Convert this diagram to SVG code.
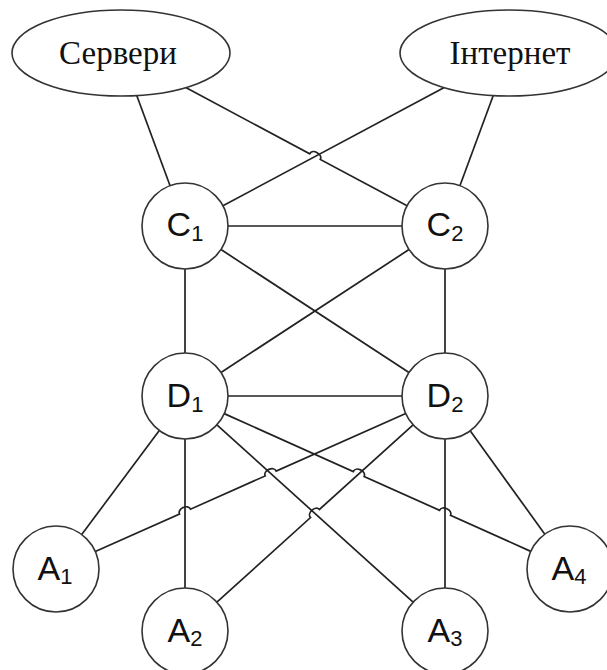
<svg xmlns="http://www.w3.org/2000/svg" width="607" height="670" viewBox="0 0 607 670">
<style>
.bg{fill:#ffffff}
.node{fill:#ffffff;stroke:#333333;stroke-width:1.6}
.edge{fill:none;stroke:#222222;stroke-width:1.7}
.lbl{font-family:"Liberation Sans",Arial,sans-serif;font-size:34px;fill:#111111;text-anchor:middle}
.sub{font-size:22px}
.elbl{font-family:"Liberation Serif","Times New Roman",serif;font-size:33px;fill:#111111;text-anchor:middle}
</style>
<rect class="bg" x="0" y="0" width="607" height="670"/>
<g id="connectors">
<path class="edge" d="M136.74,95.55 L170.08,185.67"/>
<path class="edge" d="M185.77,87.59 L309.71,153.77 C312.54,148.48 323.12,154.14 320.29,159.43 L407.07,205.75"/>
<path class="edge" d="M444.23,87.59 L222.93,205.75"/>
<path class="edge" d="M493.26,95.55 L459.92,185.67"/>
<path class="edge" d="M228,226 L402,226"/>
<path class="edge" d="M185,269 L185,353"/>
<path class="edge" d="M221,249.53 L409,372.47"/>
<path class="edge" d="M409,249.53 L221,372.47"/>
<path class="edge" d="M445,269 L445,353"/>
<path class="edge" d="M228,396 L402,396"/>
<path class="edge" d="M159.3,430.47 L81.7,534.53"/>
<path class="edge" d="M185,439 L185,588"/>
<path class="edge" d="M216.9,424.83 L413.1,602.17"/>
<path class="edge" d="M224.22,413.62 L353.23,471.54 C355.69,466.07 366.63,470.99 364.17,476.46 L439.53,510.34 C441.99,504.87 452.93,509.79 450.47,515.26 L530.78,551.38"/>
<path class="edge" d="M405.71,413.47 L276.18,471.06 C273.74,465.58 262.78,470.46 265.22,475.94 L190.48,509.16 C188.04,503.68 177.08,508.56 179.52,514.04 L95.29,551.53"/>
<path class="edge" d="M413.1,424.83 L319.45,509.48 C315.43,505.03 306.53,513.07 310.55,517.52 L216.9,602.17"/>
<path class="edge" d="M445,439 L445,588"/>
<path class="edge" d="M470.18,430.86 L544.82,534.14"/>
</g>
<g id="servery"><ellipse class="node" cx="121" cy="53" rx="109" ry="43"/><text class="elbl" x="118" y="64">Сервери</text></g>
<g id="internet"><ellipse class="node" cx="509" cy="53" rx="109" ry="43"/><text class="elbl" x="510" y="64">Інтернет</text></g>
<g id="C1"><circle class="node" cx="185" cy="226" r="43"/><text class="lbl" x="185" y="236">C<tspan class="sub" dy="5">1</tspan></text></g>
<g id="C2"><circle class="node" cx="445" cy="226" r="43"/><text class="lbl" x="445" y="236">C<tspan class="sub" dy="5">2</tspan></text></g>
<g id="D1"><circle class="node" cx="185" cy="396" r="43"/><text class="lbl" x="185" y="407">D<tspan class="sub" dy="5">1</tspan></text></g>
<g id="D2"><circle class="node" cx="445" cy="396" r="43"/><text class="lbl" x="445" y="407">D<tspan class="sub" dy="5">2</tspan></text></g>
<g id="A1"><circle class="node" cx="56" cy="569" r="43"/><text class="lbl" x="55" y="580">A<tspan class="sub" dy="4">1</tspan></text></g>
<g id="A2"><circle class="node" cx="185" cy="631" r="43"/><text class="lbl" x="185" y="642">A<tspan class="sub" dy="4">2</tspan></text></g>
<g id="A3"><circle class="node" cx="445" cy="631" r="43"/><text class="lbl" x="445" y="642">A<tspan class="sub" dy="4">3</tspan></text></g>
<g id="A4"><circle class="node" cx="570" cy="569" r="43"/><text class="lbl" x="569" y="580">A<tspan class="sub" dy="4">4</tspan></text></g>
</svg>
